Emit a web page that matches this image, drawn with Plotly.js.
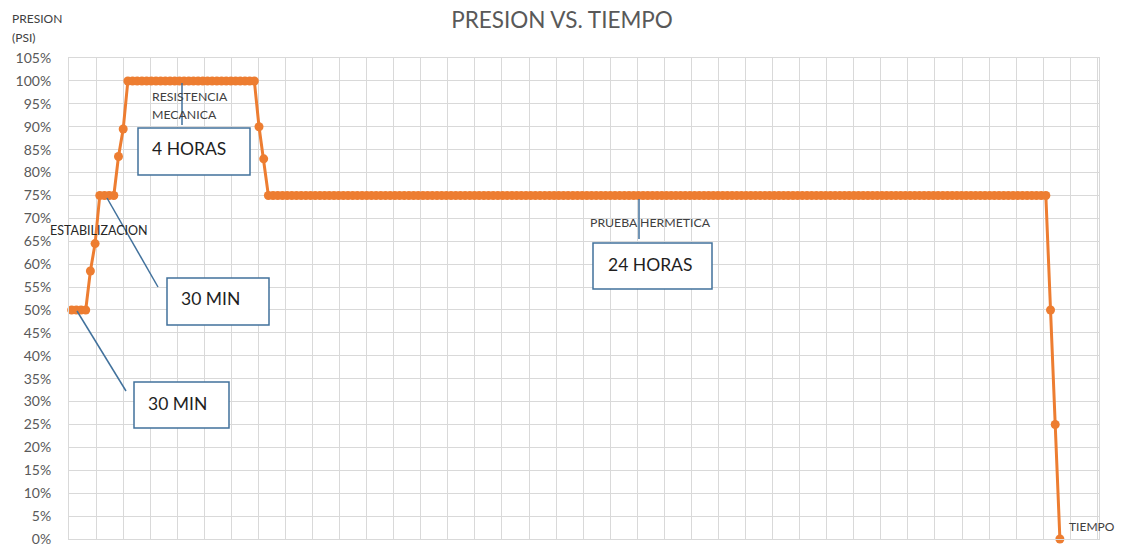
<!DOCTYPE html>
<html>
<head>
<meta charset="utf-8">
<script src="https://cdn.plot.ly/plotly-3.0.1.min.js"></script>
<style>
  body { margin: 0; background: #fff; }
  #grafico { width: 1124px; height: 557px; }
</style>
</head>
<body>
<div id="grafico"></div>
<script>
// presion (fraccion de la prueba) leida punto por punto del grafico
var presion = [
  0.50, 0.50, 0.50, 0.50, 0.585, 0.645, 0.75, 0.75, 0.75, 0.75, 0.835, 0.895,
  1.00, 1.00, 1.00, 1.00, 1.00, 1.00, 1.00, 1.00, 1.00, 1.00, 1.00, 1.00, 1.00, 1.00,
  1.00, 1.00, 1.00, 1.00, 1.00, 1.00, 1.00, 1.00, 1.00, 1.00, 1.00, 1.00, 1.00, 1.00,
  0.90, 0.83,
  0.75, 0.75, 0.75, 0.75, 0.75, 0.75, 0.75, 0.75, 0.75, 0.75, 0.75, 0.75, 0.75, 0.75, 0.75, 0.75, 0.75, 0.75, 0.75, 0.75,
  0.75, 0.75, 0.75, 0.75, 0.75, 0.75, 0.75, 0.75, 0.75, 0.75, 0.75, 0.75, 0.75, 0.75, 0.75, 0.75, 0.75, 0.75, 0.75, 0.75,
  0.75, 0.75, 0.75, 0.75, 0.75, 0.75, 0.75, 0.75, 0.75, 0.75, 0.75, 0.75, 0.75, 0.75, 0.75, 0.75, 0.75, 0.75, 0.75, 0.75,
  0.75, 0.75, 0.75, 0.75, 0.75, 0.75, 0.75, 0.75, 0.75, 0.75, 0.75, 0.75, 0.75, 0.75, 0.75, 0.75, 0.75, 0.75, 0.75, 0.75,
  0.75, 0.75, 0.75, 0.75, 0.75, 0.75, 0.75, 0.75, 0.75, 0.75, 0.75, 0.75, 0.75, 0.75, 0.75, 0.75, 0.75, 0.75, 0.75, 0.75,
  0.75, 0.75, 0.75, 0.75, 0.75, 0.75, 0.75, 0.75, 0.75, 0.75, 0.75, 0.75, 0.75, 0.75, 0.75, 0.75, 0.75, 0.75, 0.75, 0.75,
  0.75, 0.75, 0.75, 0.75, 0.75, 0.75, 0.75, 0.75, 0.75, 0.75, 0.75, 0.75, 0.75, 0.75, 0.75, 0.75, 0.75, 0.75, 0.75, 0.75,
  0.75, 0.75, 0.75, 0.75, 0.75, 0.75, 0.75, 0.75, 0.75, 0.75, 0.75, 0.75, 0.75, 0.75, 0.75, 0.75, 0.75, 0.75, 0.75, 0.75,
  0.75, 0.75, 0.75, 0.75, 0.75, 0.75, 0.75,
  0.50, 0.25, 0.00
];

// eje y: 0% .. 105%
var yTicks = [0, 0.05, 0.10, 0.15, 0.20, 0.25, 0.30, 0.35, 0.40, 0.45, 0.50, 0.55,
              0.60, 0.65, 0.70, 0.75, 0.80, 0.85, 0.90, 0.95, 1.00, 1.05];
var yLabels = ["0%", "5%", "10%", "15%", "20%", "25%", "30%", "35%", "40%", "45%", "50%", "55%",
               "60%", "65%", "70%", "75%", "80%", "85%", "90%", "95%", "100%", "105%"];

// cada punto es una categoria (indice) como en el grafico de lineas de excel
var tiempo = [];
for (var i = 0; i < presion.length; i++) {
  tiempo.push(i);
}

// area del grafico en pixeles, para ubicar las notas
var L = 69, R = 1099, T = 58, B = 539;
function px(x) { return (x - L) / (R - L); }
function py(y) { return (B - y) / (B - T); }

var naranja = "#ED7D31";
var azul = "#41719C";
var fuente = "Lato, 'Liberation Sans', sans-serif";

function texto(t, x, y, size, color) {
  return {
    text: t, xref: "paper", yref: "paper", x: px(x), y: py(y),
    xanchor: "left", yanchor: "middle", showarrow: false,
    font: {family: fuente, size: size, color: color}
  };
}

function caja(x0, y0, x1, y1) {
  return {
    type: "rect", xref: "paper", yref: "paper",
    x0: px(x0), x1: px(x1), y0: py(y0), y1: py(y1),
    fillcolor: "#ffffff", line: {color: azul, width: 1.5}
  };
}

function linea(x0, y0, x1, y1) {
  return {
    type: "line", xref: "paper", yref: "paper",
    x0: px(x0), x1: px(x1), y0: py(y0), y1: py(y1),
    line: {color: azul, width: 1.5}
  };
}

var datos = [{
  x: tiempo,
  y: presion,
  type: "scatter",
  mode: "lines+markers",
  line: {color: naranja, width: 3},
  marker: {color: naranja, size: 9},
  cliponaxis: false,
  hoverinfo: "y"
}];

var layout = {
  width: 1124,
  height: 557,
  margin: {l: L, r: 1124 - R, t: T, b: 557 - B},
  paper_bgcolor: "#ffffff",
  plot_bgcolor: "#ffffff",
  showlegend: false,
  font: {family: fuente, color: "#595959"},
  title: {
    text: "PRESION VS. TIEMPO",
    x: 0.5, xref: "container", xanchor: "center",
    y: 1 - 20 / 557, yref: "container", yanchor: "middle",
    font: {family: fuente, size: 22.5, color: "#595959"}
  },
  xaxis: {
    range: [-0.57, 219.35],
    tick0: -0.57,
    dtick: 5.778,
    showticklabels: false,
    ticks: "",
    showgrid: true,
    gridcolor: "#d9d9d9",
    gridwidth: 1,
    zeroline: false,
    showline: true,
    mirror: true,
    linecolor: "#d9d9d9"
  },
  yaxis: {
    range: [0, 1.0501],
    tickvals: yTicks,
    ticktext: yLabels,
    ticks: "",
    ticklabelstandoff: 14,
    tickfont: {family: fuente, size: 14, color: "#595959"},
    showgrid: true,
    gridcolor: "#d9d9d9",
    gridwidth: 1,
    zeroline: false,
    showline: true,
    mirror: true,
    linecolor: "#d9d9d9"
  },
  shapes: [
    linea(77, 311, 126, 391),
    caja(134, 382, 229, 428),
    linea(107, 198, 158, 287),
    caja(167, 278, 269, 325),
    linea(182, 83, 182, 125),
    caja(138, 128, 250, 175),
    linea(639, 199, 639, 239),
    caja(593, 243, 712, 289)
  ],
  annotations: [
    texto("PRESION", 10, 19, 12, "#404040"),
    texto("(PSI)", 10, 37, 12, "#404040"),
    texto("TIEMPO", 1067, 526, 12, "#404040"),
    texto("ESTABILIZACION", 48, 230, 12.5, "#262626"),
    texto("RESISTENCIA", 150, 96, 12.3, "#404040"),
    texto("MECANICA", 150, 114, 12.3, "#404040"),
    texto("PRUEBA HERMETICA", 588, 222, 12.3, "#404040"),
    texto("30 MIN", 146, 403, 17.5, "#1f1f1f"),
    texto("30 MIN", 179, 298, 17.5, "#1f1f1f"),
    texto("4 HORAS", 150, 149, 17.5, "#1f1f1f"),
    texto("24 HORAS", 606, 264, 17.5, "#1f1f1f")
  ]
};

Plotly.newPlot("grafico", datos, layout, {displayModeBar: false, staticPlot: true});
</script>
</body>
</html>
